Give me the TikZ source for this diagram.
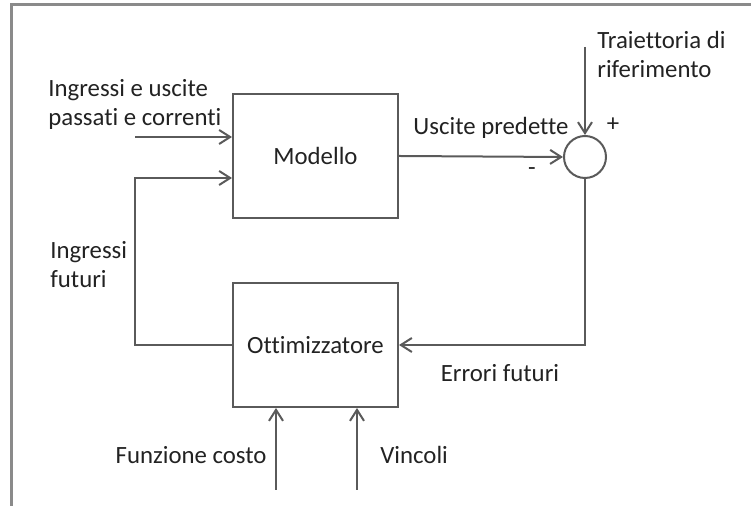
\documentclass[tikz,border=0pt]{standalone}
\usepackage{fontspec}
\setmainfont{Carlito}[Ligatures={NoCommon}]
\usetikzlibrary{arrows.meta,positioning}
\definecolor{linegray}{HTML}{5A5A5A}
\definecolor{framegray}{HTML}{8A8A8A}
\definecolor{txtgray}{HTML}{222222}
\tikzset{blk/.style={draw=linegray,line width=1pt,minimum width=82.5pt,minimum height=62pt,inner sep=0pt,text=txtgray},
  lbl/.style={align=left,inner sep=0pt,text=txtgray},
  conn/.style={draw=linegray,line width=1pt,-{Straight Barb[length=5.5pt,width=7pt]}}}
\begin{document}
\begin{tikzpicture}[x=0.5pt,y=-0.5pt,font=\fontsize{12.4}{14.5}\selectfont]
\useasboundingbox (0,0) rectangle (751,506);
\draw[framegray,line width=1.5pt] (11,506) -- (11,5) -- (751,5);
\node[blk](NM) at (315.5,156){Modello};
\node[blk](NO) at (315.5,345){Ottimizzatore};
\node[circle,draw=linegray,line width=1pt,minimum size=21pt,inner sep=0pt](NS) at (585,157){};
\coordinate (CI) at (135,137);
\coordinate (CF) at (135,178);
\coordinate (CR) at (585,47);
\coordinate (CC) at (276,490);
\coordinate (CV) at (357,490);
\draw[conn] (CI) -- (CI -| NM.west);
\draw[conn] (NO.west) -| (CF) -- (CF -| NM.west);
\draw[conn] (NM.east) -- (NS.west);
\draw[conn] (CR) -- (NS.north);
\draw[conn] (NS.south) |- (NO.east);
\draw[conn] (CC) -- (CC |- NO.south);
\draw[conn] (CV) -- (CV |- NO.south);
\node[lbl,anchor=west](NIN) at (48,104){Ingressi e uscite\\passati e correnti};
\node[lbl,anchor=west](NIF) at (50,265){Ingressi\\futuri};
\node[lbl](NUP) at (491,128){Uscite predette};
\node[lbl](NMI) at (532,172){-};
\node[lbl](NPL) at (613,125){+};
\node[lbl,anchor=west](NTR) at (597,54){Traiettoria di\\riferimento};
\node[lbl](NEF) at (500,373){Errori futuri};
\node[lbl,anchor=east](NFC) at (267,455){Funzione costo};
\node[lbl,anchor=west](NVI) at (380,455){Vincoli};
\end{tikzpicture}
\end{document}
